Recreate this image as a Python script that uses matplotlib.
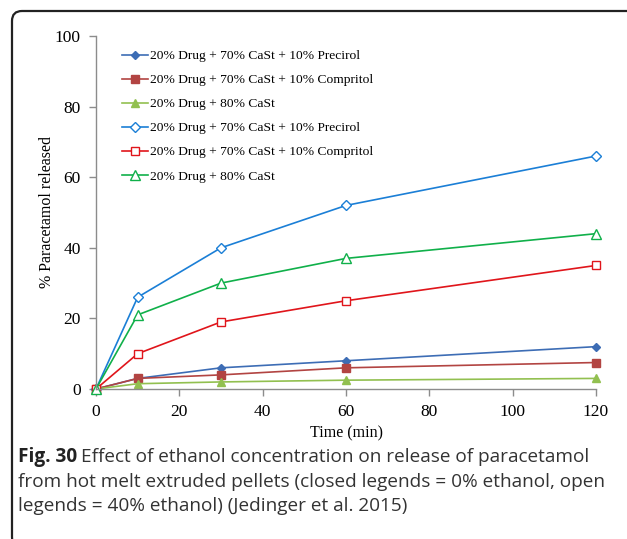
import numpy as np
import matplotlib
matplotlib.use('Agg')
import matplotlib.pyplot as plt
from matplotlib.patches import FancyBboxPatch

# data
time_min = [0, 10, 30, 60, 120]
precirol_0 = [0, 3, 6, 8, 12]
compritol_0 = [0, 3, 4, 6, 7.5]
cast_0 = [0, 1.5, 2, 2.5, 3]
precirol_40 = [0, 26, 40, 52, 66]
compritol_40 = [0, 10, 19, 25, 35]
cast_40 = [0, 21, 30, 37, 44]

labels = ['20% Drug + 70% CaSt + 10% Precirol',
          '20% Drug + 70% CaSt + 10% Compritol',
          '20% Drug + 80% CaSt']

serif = 'Liberation Serif'
W, H = 627, 539

fig = plt.figure(figsize=(6.27, 5.39), dpi=100)
ax = fig.add_axes([96/W, 1-389/H, (596-96)/W, (389-36)/H])

# closed markers: 0% ethanol
ax.plot(time_min, precirol_0, color='#3d6db5', marker='D', ms=4.5, lw=1.2, label=labels[0], clip_on=False)
ax.plot(time_min, compritol_0, color='#b24442', marker='s', ms=5.5, lw=1.2, label=labels[1], clip_on=False)
ax.plot(time_min, cast_0, color='#92c050', marker='^', ms=6, lw=1.2, label=labels[2], clip_on=False)
# open markers: 40% ethanol
ax.plot(time_min, precirol_40, color='#1b7fd6', marker='D', ms=5.5, mfc='white', mew=1.0, lw=1.2,
        label=labels[0], clip_on=False)
ax.plot(time_min, compritol_40, color='#e0151b', marker='s', ms=6, mfc='white', mew=1.0, lw=1.2,
        label=labels[1], clip_on=False)
ax.plot(time_min, cast_40, color='#10b04a', marker='^', ms=7.5, mfc='white', mew=1.0, lw=1.2,
        label=labels[2], clip_on=False)

ax.set_xlim(0, 120)
ax.set_ylim(0, 100)
ax.set_xticks(np.arange(0, 121, 20))
ax.set_yticks(np.arange(0, 101, 20))
for s in ['top', 'right']:
    ax.spines[s].set_visible(False)
for s in ['left', 'bottom']:
    ax.spines[s].set_color('#8c8c8c')
    ax.spines[s].set_linewidth(1.0)
ax.tick_params(axis='both', colors='#8c8c8c', length=5, width=1.0, labelcolor='black',
               labelsize=12.5, pad=6)
for t in ax.get_xticklabels() + ax.get_yticklabels():
    t.set_fontfamily(serif)

ax.set_xlabel('Time (min)', fontfamily=serif, fontsize=11.5, labelpad=4)
ax.set_ylabel('% Paracetamol released', fontfamily=serif, fontsize=11.5, labelpad=0)

ax.legend(loc='upper left', bbox_to_anchor=(122/W, 1-50/H), bbox_transform=fig.transFigure,
          frameon=False, prop={'family': serif, 'size': 9.7}, handlelength=1.9, handletextpad=0.2,
          labelspacing=0.86, borderpad=0, borderaxespad=0)

# caption
cap_font = 'Open Sans'
cap_size = 13.7
cap_x = 18/W
t0 = fig.text(cap_x, 1-457/H, 'Fig. 30', fontsize=cap_size, va='center', ha='left',
              fontfamily=cap_font, fontweight='bold', color='#222222')
fig.canvas.draw()
bb = t0.get_window_extent()
fig.text((bb.x1 + 4)/W, 1-457/H, 'Effect of ethanol concentration on release of paracetamol',
         fontsize=cap_size, va='center', ha='left', fontfamily=cap_font, color='#333333')
fig.text(cap_x, 1-482/H, 'from hot melt extruded pellets (closed legends = 0% ethanol, open',
         fontsize=cap_size, va='center', ha='left', fontfamily=cap_font, color='#333333')
fig.text(cap_x, 1-506/H, 'legends = 40% ethanol) (Jedinger et al. 2015)',
         fontsize=cap_size, va='center', ha='left', fontfamily=cap_font, color='#333333')

# rounded frame (only left and top visible)
frame = FancyBboxPatch((0.12, -0.08), 6.6, 5.36, boxstyle='round,pad=0,rounding_size=0.1',
                       transform=fig.dpi_scale_trans, fill=False, lw=1.6, ec='#222222')
fig.add_artist(frame)

fig.savefig('out.png', dpi=100)
